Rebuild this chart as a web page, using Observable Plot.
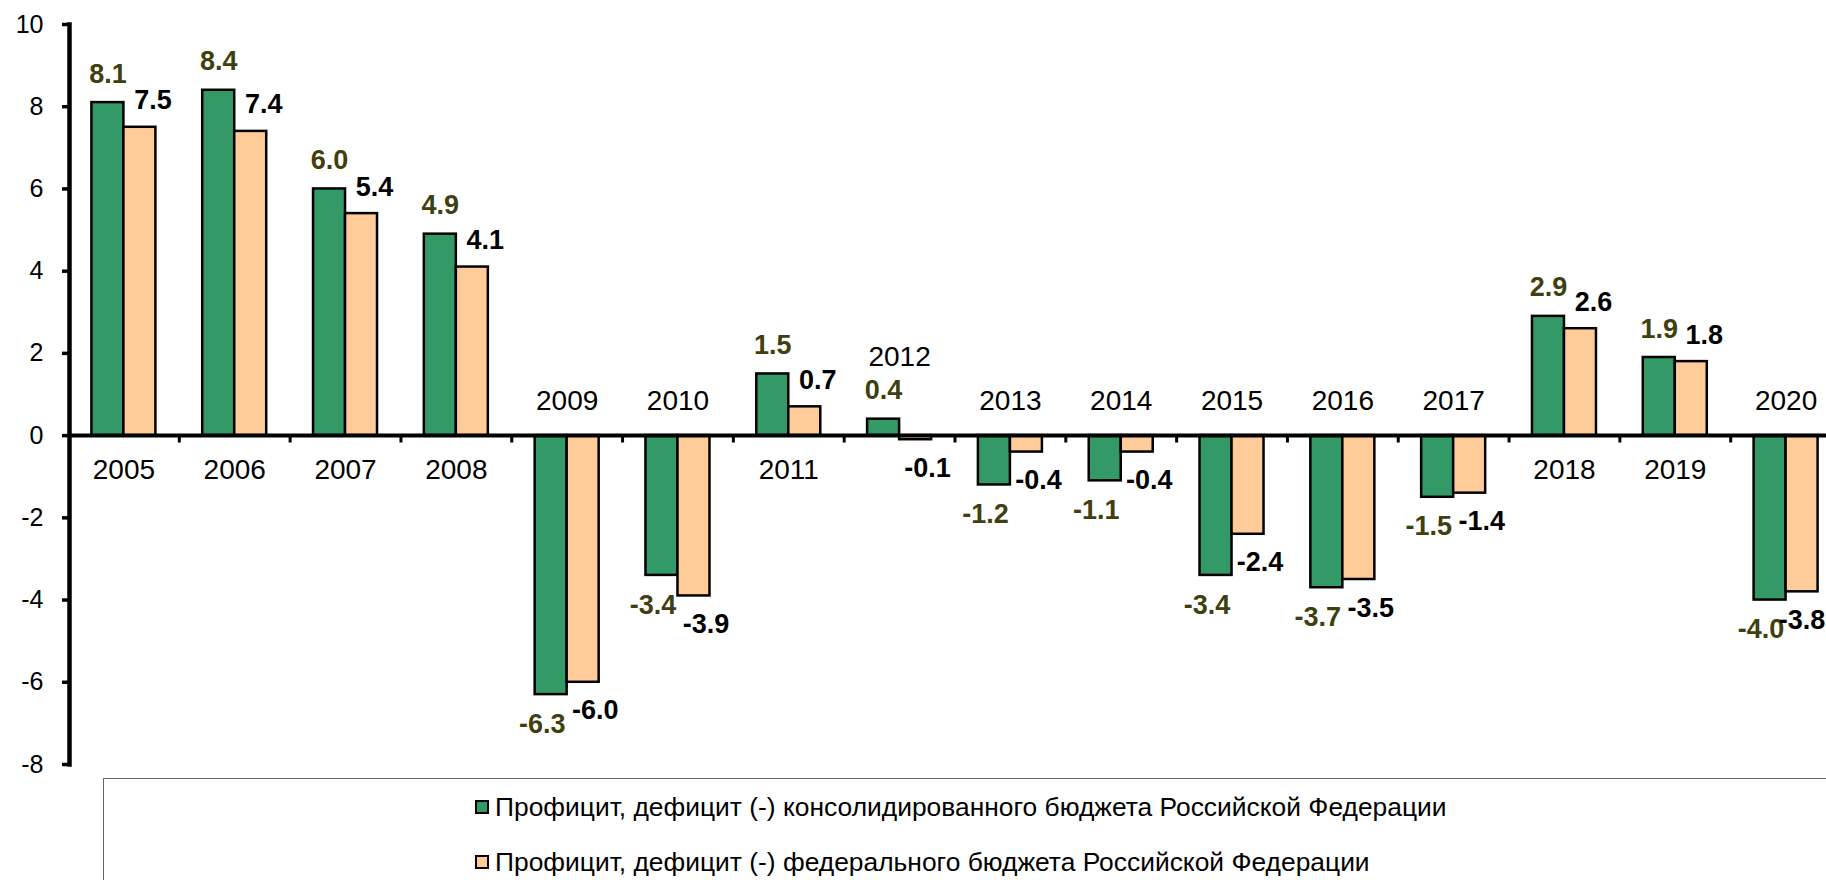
<!DOCTYPE html>
<html><head><meta charset="utf-8">
<script src="https://cdn.jsdelivr.net/npm/d3@7"></script>
<script src="https://cdn.jsdelivr.net/npm/@observablehq/plot@0.6"></script>
<style>
body{margin:0;background:#fff;font-family:"Liberation Sans",Arial,sans-serif;}
#wrap{position:relative;width:1826px;height:880px;overflow:hidden;background:#fff;}
#legend{position:absolute;left:103px;top:778px;width:1800px;height:200px;border:1.5px solid #666;box-sizing:border-box;}
.item{position:absolute;left:371px;font-size:26.4px;line-height:30px;display:flex;align-items:center;white-space:nowrap;color:#000;}
.sw{width:10px;height:10px;border:2px solid #000;margin-right:6px;}
</style></head><body><div id="wrap"><div id="chart"></div><div id="legend"></div></div>
<script>
const years = ["2005","2006","2007","2008","2009","2010","2011","2012","2013","2014","2015","2016","2017","2018","2019","2020"];
const consolidated = [8.1, 8.4, 6.0, 4.9, -6.3, -3.4, 1.5, 0.4, -1.2, -1.1, -3.4, -3.7, -1.5, 2.9, 1.9, -4.0];
const federal = [7.5, 7.4, 5.4, 4.1, -6.0, -3.9, 0.7, -0.1, -0.4, -0.4, -2.4, -3.5, -1.4, 2.6, 1.8, -3.8];
const yTicks = [-8, -6, -4, -2, 0, 2, 4, 6, 8, 10];
const seriesNames = [
  "Профицит, дефицит (-) консолидированного бюджета Российской Федерации",
  "Профицит, дефицит (-) федерального бюджета Российской Федерации"
];
const seriesColors = ["#339966", "#FFCC99"];

const cons = years.map((y, i) => ({year: y, v: consolidated[i]}));
const fed = years.map((y, i) => ({year: y, v: federal[i]}));
const yl = years.map((y, i) => ({year: y, c: consolidated[i], f: federal[i]}));
const below = yl.filter(d => d.f >= 0);
const above = yl.filter(d => d.f < 0 && d.c < 0);
const high = yl.filter(d => d.f < 0 && d.c >= 0);
const lastYear = years[years.length - 1];
const fmt = d => d.v.toFixed(1);
const bw = (1841 - 68) / years.length, half = bw / 2, barW = 32;
const labelColor = "#3f3f0f";

const chart = Plot.plot({
  width: 1826, height: 778,
  marginLeft: 69, marginRight: 0, marginTop: 24, marginBottom: 14,
  style: {fontFamily: "Liberation Sans, Arial, sans-serif", fontSize: "26px", background: "white", color: "#000"},
  x: {type: "band", domain: years, range: [68, 1841], padding: 0, round: false, axis: null},
  y: {domain: [-8, 10], label: null, axis: null},
  marks: [
    Plot.barY(cons, {x: "year", y: "v", fill: seriesColors[0], stroke: "#000", strokeWidth: 2.5, insetLeft: half - barW, insetRight: half}),
    Plot.barY(fed, {x: "year", y: "v", fill: seriesColors[1], stroke: "#000", strokeWidth: 2.5, insetLeft: half, insetRight: half - barW}),
    Plot.ruleY([0], {stroke: "#000", strokeWidth: 4}),
    Plot.ruleX(years.slice(1), {x: d => d, y1: 0, y2: -0.18, dx: -half, stroke: "#000", strokeWidth: 3}),
    Plot.frame({anchor: "left", stroke: "#000", strokeWidth: 4.5}),
    Plot.axisY({ticks: yTicks, tickSize: 7, tickPadding: 19, fontSize: 25, strokeWidth: 3.5, tickFormat: d => String(d), label: null}),
    Plot.text(below, {x: "year", y: 0, text: "year", dy: 34, fontSize: 28, fill: "#000"}),
    Plot.text(above, {x: "year", y: 0, text: "year", dy: -35, fontSize: 28, fill: "#000"}),
    Plot.text(high, {x: "year", y: 0, text: "year", dy: -79, fontSize: 28, fill: "#000"}),
    Plot.text(cons.filter(d => d.v >= 0), {x: "year", y: "v", text: fmt, dx: -16, dy: -20, lineAnchor: "bottom", fontSize: 27, fontWeight: "bold", fill: labelColor}),
    Plot.text(cons.filter(d => d.v < 0), {x: "year", y: "v", text: fmt, dx: -25, dy: 19, lineAnchor: "top", fontSize: 27, fontWeight: "bold", fill: labelColor}),
    Plot.text(fed.filter(d => d.v >= 0), {x: "year", y: "v", text: fmt, dx: 29, dy: -18, lineAnchor: "bottom", fontSize: 27, fontWeight: "bold", fill: "#000"}),
    Plot.text(fed.filter(d => d.v < 0 && d.year !== lastYear), {x: "year", y: "v", text: fmt, dx: 28, dy: 18, lineAnchor: "top", fontSize: 27, fontWeight: "bold", fill: "#000"}),
    Plot.text(fed.filter(d => d.v < 0 && d.year === lastYear), {x: "year", y: "v", text: fmt, dx: 16, dy: 18, lineAnchor: "top", fontSize: 27, fontWeight: "bold", fill: "#000"})
  ]
});
document.getElementById("chart").appendChild(chart);

const legend = document.getElementById("legend");
seriesNames.forEach((name, i) => {
  const item = document.createElement("div");
  item.className = "item";
  item.style.top = (13 + i * 55) + "px";
  const sw = document.createElement("span");
  sw.className = "sw";
  sw.style.background = seriesColors[i];
  const t = document.createElement("span");
  t.textContent = name;
  item.appendChild(sw); item.appendChild(t);
  legend.appendChild(item);
});
</script></body></html>
